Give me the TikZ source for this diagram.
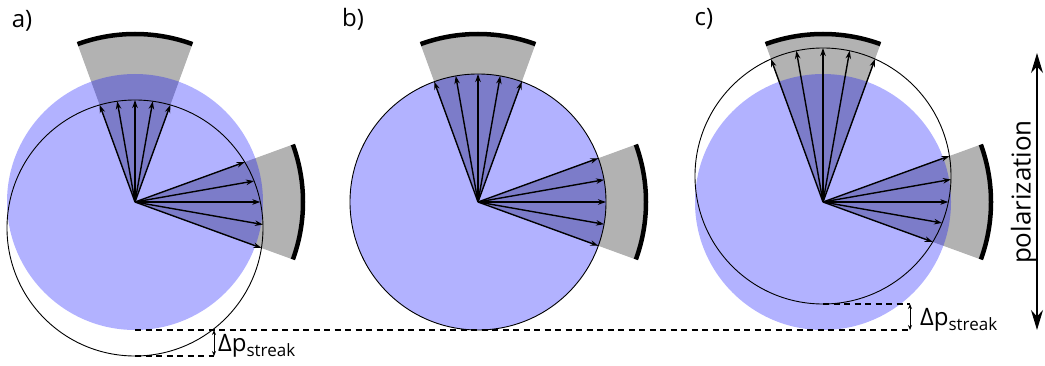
\documentclass[tikz,border=0pt]{standalone}
\usepackage{fontspec}
\setmainfont{Open Sans}
\usetikzlibrary{arrows.meta}

\begin{document}
\begin{tikzpicture}[x=1pt,y=1pt,
    sphere/.style={fill=blue,fill opacity=0.3},
    shell/.style={draw=black,line width=0.9pt},
    detector/.style={fill=black!30},
    screen/.style={line width=4.5pt},
    ray/.style={-{Stealth[length=8pt,width=5.5pt]},line width=1.4pt},
    gap/.style={dash pattern=on 6pt off 4.5pt,line width=1.4pt},
    offset/.style={{Stealth[length=5pt,width=4pt]}-{Stealth[length=5pt,width=4pt]},line width=1pt},
    polar/.style={{Stealth[length=20pt,width=12pt]}-{Stealth[length=20pt,width=12pt]},line width=1.2pt},
    panel/.style={font=\fontsize{24}{26}\selectfont,inner sep=0pt},
    shiftlabel/.style={font=\fontsize{24}{26}\selectfont,anchor=base west,inner sep=0pt}
  ]
  \useasboundingbox (0,0) rectangle (1045,365);

  % centres of the three spheres
  \coordinate (oa) at (135,163);
  \coordinate (ob) at (478,163);
  \coordinate (oc) at (823,163);
  \coordinate (ca) at (135,137);
  \coordinate (cc) at (823,189);

  % detectors
  \foreach \o in {oa,ob,oc}{
    \fill[detector] (\o) -- ++(70:166) arc[start angle=70,end angle=110,radius=166] -- cycle;
    \fill[detector] (\o) -- ++(-20:166) arc[start angle=-20,end angle=20,radius=166] -- cycle;
  }

  % momentum spheres
  \foreach \o in {oa,ob,oc}
    \fill[sphere] (\o) circle[radius=128];
  \draw[shell] (ca) circle[radius=128];
  \draw[shell] (ob) circle[radius=128];
  \draw[shell] (cc) circle[radius=128];

  % momenta reaching the detectors
  \foreach \a in {70,80,...,110,-20,-10,...,20}{
    \pgfmathsetmacro\la{10*(-2.6*sin(\a)+sqrt(12.8^2-(2.6*cos(\a))^2))}
    \pgfmathsetmacro\lc{10*(2.6*sin(\a)+sqrt(12.8^2-(2.6*cos(\a))^2))}
    \draw[ray] (oa) -- ++(\a:\la);
    \draw[ray] (ob) -- ++(\a:128);
    \draw[ray] (oc) -- ++(\a:\lc);
  }

  % detector screens
  \foreach \o in {oa,ob,oc}{
    \draw[screen] ([shift={(70:168)}]\o) arc[start angle=70,end angle=110,radius=168];
    \draw[screen] ([shift={(-20:168)}]\o) arc[start angle=-20,end angle=20,radius=168];
  }

  % streaking shift
  \coordinate (ba) at (135,9);
  \coordinate (bb) at (135,35);
  \coordinate (bc) at (823,61);
  \coordinate (ea) at (214,9);
  \coordinate (ma) at (214,35);
  \coordinate (ec) at (910,35);
  \coordinate (mc) at (910,61);
  \draw[gap] (ba) -- (ea);
  \draw[gap] (bb) -- (ec);
  \draw[gap] (bc) -- (mc);
  \draw[offset] (ea) -- (ma);
  \draw[offset] (ec) -- (mc);
  \node[shiftlabel] (da) at (218,14) {Δp\raisebox{-5pt}{\fontsize{17}{17}\selectfont streak}};
  \node[shiftlabel] (dc) at (920,40) {Δp\raisebox{-5pt}{\fontsize{17}{17}\selectfont streak}};

  % polarization axis
  \coordinate (pt) at (1037,312);
  \coordinate (pb) at (1037,35);
  \draw[polar] (pb) -- (pt);
  \node[rotate=90,anchor=south,inner sep=0pt,font=\fontsize{26}{28}\selectfont] (pol) at (1037,173) {polarization};

  % panel labels
  \node[panel] (pa) at (22,344) {a)};
  \node[panel] (pb2) at (353,346) {b)};
  \node[panel] (pc) at (704,346) {c)};
\end{tikzpicture}
\end{document}
